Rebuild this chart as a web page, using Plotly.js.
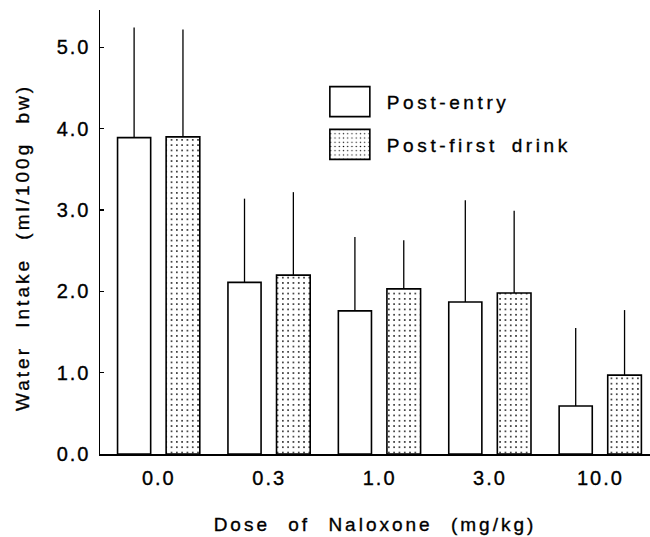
<!DOCTYPE html>
<html>
<head>
<meta charset="utf-8">
<script src="https://cdn.plot.ly/plotly-3.0.1.min.js"></script>
<style>
  html, body { margin: 0; padding: 0; background: #fff; }
  #chart { width: 650px; height: 537px; }
  .main-svg text { letter-spacing: 2px; stroke: #000; stroke-width: 0.35px; }
  .xtitle, .annotation-text { letter-spacing: 3px !important; word-spacing: 10px; }
  .legendtext { letter-spacing: 3.6px !important; word-spacing: 5px; }
</style>
</head>
<body>
<div id="chart"></div>
<script>
// ---- data ----
const doses = ['0.0', '0.3', '1.0', '3.0', '10.0'];
const postEntry = [3.89, 2.11, 1.76, 1.87, 0.59];
const postEntryErr = [1.355, 1.03, 0.91, 1.25, 0.96];
const postFirstDrink = [3.90, 2.20, 2.03, 1.98, 0.97];
const postFirstDrinkErr = [1.32, 1.02, 0.60, 1.01, 0.80];
const noLowerErr = [0, 0, 0, 0, 0];
const seriesNames = ['Post-entry', 'Post-first drink'];
const yTickVals = [0, 1, 2, 3, 4, 5];
const xTitle = 'Dose of Naloxone (mg/kg)';
const yTitle = 'Water Intake (ml/100g bw)';

const FONT = 'Liberation Sans, Arial, Helvetica, sans-serif';

const traces = [
  {
    type: 'bar',
    name: seriesNames[0],
    legendgroup: 'a',
    x: doses,
    y: postEntry,
    offset: -0.374,
    width: 0.30,
    marker: { color: '#ffffff', line: { color: '#000', width: 1.6 } },
    error_y: { type: 'data', symmetric: false, array: postEntryErr, arrayminus: noLowerErr,
               width: 0, thickness: 1.3, color: '#000' }
  },
  {
    type: 'bar',
    name: seriesNames[1],
    legendgroup: 'b',
    x: doses,
    y: postFirstDrink,
    offset: 0.066,
    width: 0.305,
    marker: {
      color: '#ffffff',
      line: { color: '#000', width: 1.6 },
      pattern: { shape: '.', size: 5.3, solidity: 0.08, fgcolor: '#000', bgcolor: '#fff', fillmode: 'replace' }
    },
    error_y: { type: 'data', symmetric: false, array: postFirstDrinkErr, arrayminus: noLowerErr,
               width: 0, thickness: 1.3, color: '#000' }
  }
];

const layout = {
  width: 650,
  height: 537,
  margin: { l: 100, r: 0, t: 10, b: 83 },
  paper_bgcolor: '#fff',
  plot_bgcolor: '#fff',
  font: { family: FONT, color: '#000', size: 19 },
  barmode: 'overlay',
  showlegend: true,
  legend: {
    x: 0.387, y: 0.836, xanchor: 'left', yanchor: 'top',
    bgcolor: 'rgba(0,0,0,0)',
    font: { family: FONT, size: 19, color: '#000' },
    itemwidth: 64,
    traceorder: 'grouped',
    tracegroupgap: 15
  },
  xaxis: {
    type: 'category',
    range: [-0.533, 4.449],
    showline: true, linecolor: '#000', linewidth: 1.5,
    ticks: '', showgrid: false, zeroline: false,
    tickfont: { family: FONT, size: 20, color: '#000' },
    ticklabelstandoff: 5,
    title: { text: xTitle + '\u00a0\u00a0', font: { family: FONT, size: 19, color: '#000' }, standoff: 30 },
    fixedrange: true
  },
  yaxis: {
    range: [0, 5.46],
    tickvals: yTickVals,
    tickformat: '.1f',
    showline: true, linecolor: '#000', linewidth: 1.5,
    ticks: 'inside', ticklen: 4, tickwidth: 1.5, tickcolor: '#000',
    showgrid: false, zeroline: false,
    tickfont: { family: FONT, size: 20, color: '#000' },
    ticklabelstandoff: 4,
    fixedrange: true
  },
  annotations: [
    {
      text: yTitle,
      textangle: -90,
      xref: 'paper', yref: 'paper',
      x: -0.14, y: 0.464,
      xanchor: 'center', yanchor: 'middle',
      showarrow: false,
      font: { family: FONT, size: 19, color: '#000' }
    }
  ]
};

Plotly.newPlot('chart', traces, layout, { displayModeBar: false, staticPlot: true }).then(function () {
  // enlarge the legend swatches to match the large boxes of the original figure
  document.querySelectorAll('.legend .legendpoints path').forEach(function (p) {
    p.setAttribute('d', 'M20,15H-20V-15H20Z');
  });
});
</script>
</body>
</html>
